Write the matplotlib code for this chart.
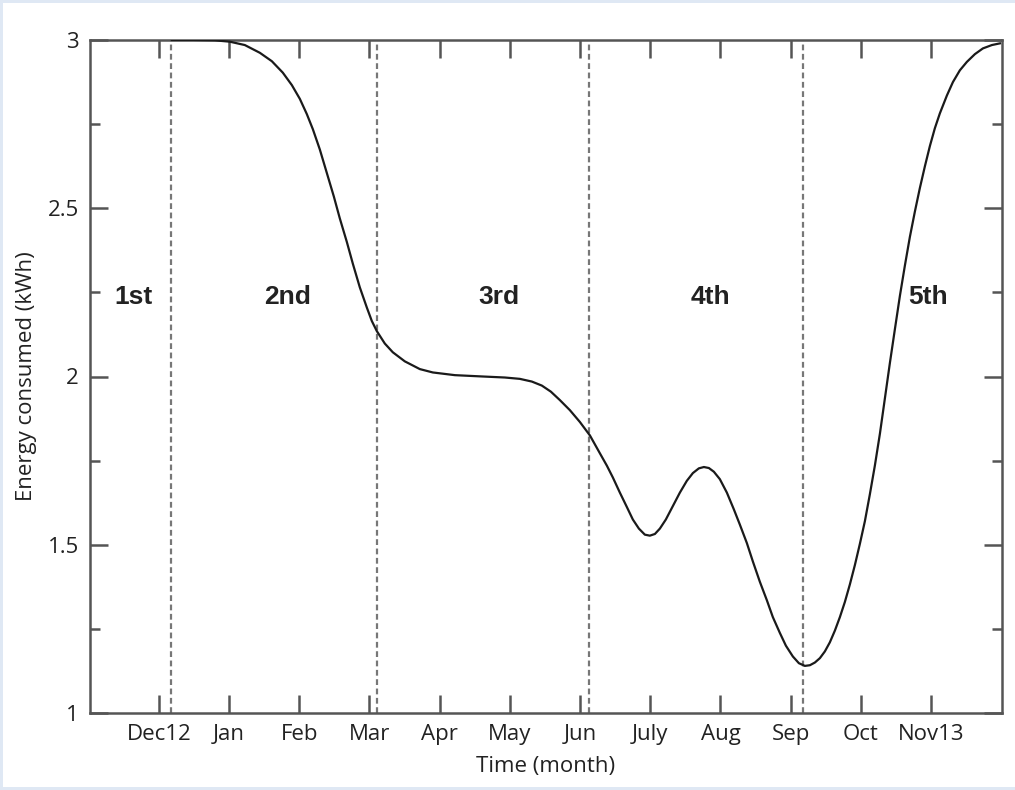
import matplotlib
matplotlib.use("Agg")
import matplotlib.pyplot as plt
from matplotlib.patches import Rectangle

# month ticks (index 0 = Dec 2012)
months = ['Dec12', 'Jan', 'Feb', 'Mar', 'Apr', 'May', 'Jun',
          'July', 'Aug', 'Sep', 'Oct', 'Nov13']

# curve (x in month index, y in kWh)
t = [0.185, 0.484, 0.798, 1.011, 1.225, 1.439, 1.610, 1.766, 1.895, 2.009,
     2.108, 2.194, 2.293, 2.393, 2.493, 2.578, 2.678, 2.764, 2.863, 2.963,
     3.034, 3.105, 3.219, 3.333, 3.504, 3.718, 3.903, 4.217, 4.615, 4.929,
     5.142, 5.313, 5.456, 5.584, 5.712, 5.855, 5.997, 6.140, 6.282, 6.382,
     6.467, 6.567, 6.667, 6.752, 6.838, 6.923, 6.994, 7.066, 7.137, 7.222,
     7.322, 7.422, 7.521, 7.607, 7.692, 7.764, 7.835, 7.906, 7.991, 8.091,
     8.191, 8.276, 8.376, 8.462, 8.561, 8.661, 8.746, 8.846, 8.932, 9.031,
     9.117, 9.202, 9.274, 9.345, 9.416, 9.487, 9.558, 9.630, 9.701, 9.772,
     9.843, 9.915, 9.986, 10.057, 10.128, 10.199, 10.271, 10.342, 10.413, 10.484,
     10.556, 10.627, 10.698, 10.769, 10.840, 10.912, 10.983, 11.054, 11.125, 11.225,
     11.311, 11.410, 11.510, 11.624, 11.738, 11.866, 11.980]
energy = [3.000, 3.000, 2.999, 2.995, 2.985, 2.962, 2.937, 2.903, 2.866, 2.825,
          2.780, 2.735, 2.675, 2.605, 2.535, 2.470, 2.400, 2.335, 2.265, 2.205,
          2.165, 2.135, 2.098, 2.072, 2.045, 2.022, 2.012, 2.004, 2.000, 1.997,
          1.993, 1.985, 1.973, 1.955, 1.930, 1.900, 1.865, 1.825, 1.772, 1.735,
          1.700, 1.655, 1.612, 1.575, 1.548, 1.530, 1.527, 1.532, 1.548, 1.575,
          1.615, 1.655, 1.690, 1.713, 1.727, 1.731, 1.728, 1.717, 1.695, 1.655,
          1.605, 1.560, 1.505, 1.450, 1.390, 1.335, 1.285, 1.238, 1.200, 1.168,
          1.148, 1.140, 1.142, 1.150, 1.163, 1.183, 1.210, 1.245, 1.285, 1.330,
          1.382, 1.440, 1.503, 1.570, 1.650, 1.735, 1.830, 1.935, 2.040, 2.140,
          2.240, 2.330, 2.415, 2.490, 2.560, 2.625, 2.685, 2.738, 2.782, 2.835,
          2.875, 2.910, 2.935, 2.958, 2.975, 2.985, 2.990]

# stage boundaries and labels
bounds = [0.18, 3.11, 6.13, 9.17]
stages = ['1st', '2nd', '3rd', '4th', '5th']
stage_x = [-0.36, 1.84, 4.84, 7.86, 10.95]
stage_y = 2.236

fig = plt.figure(figsize=(10.15, 7.9), dpi=100)
fig.patch.set_facecolor('#dfe8f4')
fig.add_artist(Rectangle((3 / 1015, 3 / 790), 1 - 3 / 1015, 1 - 6 / 790,
                         transform=fig.transFigure, facecolor='white',
                         edgecolor='none', zorder=-10))
ax = fig.add_axes([90 / 1015, 1 - 713 / 790, 912 / 1015, 673 / 790])

ax.plot(t, energy, color='#1a1a1a', lw=1.6, zorder=3)
for b in bounds:
    ax.axvline(b, color='#777777', lw=1.6, linestyle=(0, (2.6, 1.6)), zorder=2)
for name, sx in zip(stages, stage_x):
    ax.text(sx, stage_y, name, ha='center', va='center', fontsize=19,
            fontweight='bold', family='Liberation Sans', color='#222222')

ax.set_xlim(-0.98, 12.01)
ax.set_ylim(1, 3)
ax.set_xticks(range(len(months)))
ax.set_xticklabels(months)
ax.set_yticks([1, 1.5, 2, 2.5, 3])
ax.set_yticklabels(['1', '1.5', '2', '2.5', '3'])
ax.set_yticks([1.25, 1.75, 2.25, 2.75], minor=True)

for s in ax.spines.values():
    s.set_color('#555555')
    s.set_linewidth(1.8)
ax.tick_params(which='both', direction='in', top=True, right=True,
               color='#555555', width=1.8, labelsize=16, labelcolor='#222222')
ax.tick_params(which='major', length=13, pad=8)
ax.tick_params(which='minor', length=7)
for lbl in ax.get_xticklabels() + ax.get_yticklabels():
    lbl.set_family('Open Sans')

ax.set_xlabel('Time (month)', fontsize=16, family='Open Sans', color='#222222',
              labelpad=8)
ax.set_ylabel('Energy consumed (kWh)', fontsize=16, family='Open Sans',
              color='#222222', labelpad=8)

plt.savefig('out.png', dpi=100)
